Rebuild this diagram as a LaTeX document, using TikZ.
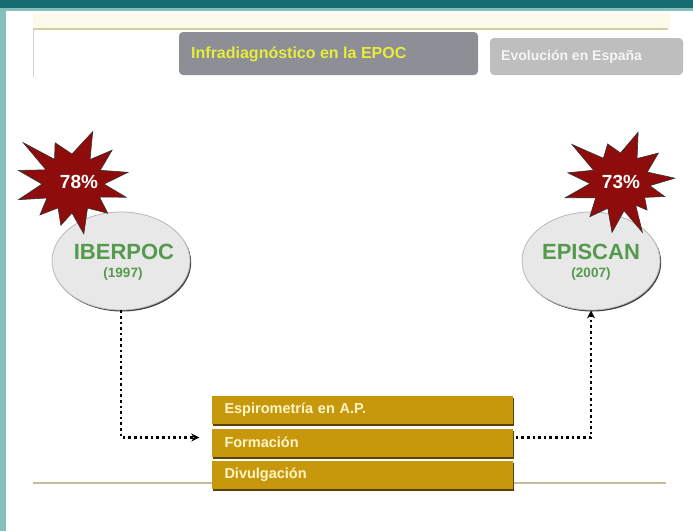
\documentclass[tikz,border=0pt]{standalone}
\usepackage{fontspec}
\setmainfont{Liberation Sans}
\usetikzlibrary{shapes.geometric,arrows.meta,shadows}
\definecolor{tealdark}{HTML}{156B6D}
\definecolor{teallight}{HTML}{84C0BB}
\definecolor{linekhaki}{HTML}{D3CE9E}
\definecolor{paleband}{HTML}{FBFBEC}
\definecolor{tabdark}{HTML}{8E8E96}
\definecolor{tablight}{HTML}{BEBEBE}
\definecolor{tabtext}{HTML}{E6EE3A}
\definecolor{burstred}{HTML}{8E0C0C}
\definecolor{ellfill}{HTML}{E8E8E8}
\definecolor{ellgreen}{HTML}{559A4C}
\definecolor{gold}{HTML}{C8980C}
\definecolor{golddark}{HTML}{5A4204}
\definecolor{goldtext}{HTML}{FFF6C6}
\begin{document}
\begin{tikzpicture}[x=1pt,y=-1pt,
  tab/.style={rounded corners=4pt, inner sep=0pt},
  burst/.style={fill=burstred, draw=black!80, line width=0.6pt, line join=miter},
  pct/.style={text=white, font=\bfseries\fontsize{19}{19}\selectfont},
  oval/.style={ellipse, fill=ellfill, draw=gray!55, line width=0.8pt,
    minimum width=138pt, minimum height=98pt, inner sep=0pt,
    drop shadow={shadow xshift=1.2pt, shadow yshift=-1.5pt, opacity=0.75, fill=black}},
  ovname/.style={text=ellgreen, font=\bfseries\fontsize{22}{22}\selectfont},
  ovyear/.style={text=ellgreen, font=\bfseries\fontsize{13.5}{13.5}\selectfont},
  bar/.style={fill=gold, minimum width=301pt, minimum height=28pt, inner xsep=13pt,
    text width=275pt, align=left, text=goldtext,
    font=\bfseries\fontsize{14.5}{14.5}\selectfont,
    drop shadow={shadow xshift=1pt, shadow yshift=-2pt, opacity=1, fill=golddark}},
  dots/.style={line width=2.6pt, dash pattern=on 2.6pt off 3pt, black,
    -{Stealth[length=8pt,width=8pt]}}
]
\useasboundingbox (0,0) rectangle (693,531);
\fill[white] (0,0) rectangle (693,531);
% frame
\fill[tealdark] (0,0) rectangle (693,8);
\fill[teallight] (0,8) rectangle (693,11);
\fill[teallight] (0,11) rectangle (6,531);
\fill[paleband] (33,13) rectangle (670,28);
\draw[linekhaki, line width=1.5pt] (33,29) -- (668,29);
\draw[gray!35, line width=1pt] (33,29) -- (33,77);
\draw[linekhaki!80!gray, line width=1.5pt] (33,483) -- (666,483);
% tabs
\node[tab, fill=tabdark, minimum width=299pt, minimum height=43pt] (tab1) at (328.5,53.5) {};
\node[anchor=west, inner sep=0pt, text=tabtext, font=\bfseries\fontsize{16}{16}\selectfont] (tab1t) at (191,54) {Infradiagnóstico en la EPOC};
\node[tab, fill=tablight, minimum width=193pt, minimum height=37pt] (tab2) at (586.5,56.5) {};
\node[anchor=west, inner sep=0pt, text=white!92!gray, font=\bfseries\fontsize{14}{14}\selectfont] (tab2t) at (501,57) {Evolución en España};
% ovals
\node[oval] (ib) at (121,261) {};
\node[ovname] (ibt) at (124,252) {IBERPOC};
\node[ovyear] (iby) at (123,274) {(1997)};
\node[oval] (ep) at (591,261) {};
\node[ovname] (ept) at (591,252) {EPISCAN};
\node[ovyear] (epy) at (591,274) {(2007)};
% bursts
\begin{scope}[shift={(73,183)}]
\draw[burst] (-69:55) -- (-54:29) -- (-40:51) -- (-25:30) -- (-11:56) -- (2:31) -- (15:55) -- (28:30)
  -- (41:46) -- (60:29) -- (78:52) -- (92:30) -- (106:44) -- (121:29) -- (136:46) -- (150:30)
  -- (163:57) -- (178:31) -- (193:56) -- (206:30) -- (219:64) -- (232:30) -- (246:44) -- (268:29) -- cycle;
\end{scope}
\node[pct] (p78) at (79,182) {78\%};
\begin{scope}[shift={(620,182)}]
\draw[burst] (218:61) -- (235:29) -- (252:40) -- (271:29) -- (290:53) -- (306:29) -- (323:48) -- (340:29)
  -- (356:55) -- (7:30) -- (18:47) -- (32:29) -- (46:39) -- (56:28) -- (66:55) -- (82:29)
  -- (99:51) -- (115:29) -- (131:46) -- (147:29) -- (164:57) -- (177:30) -- (190:53) -- (204:29) -- cycle;
\end{scope}
\node[pct] (p73) at (621,182) {73\%};
% bars
\node[bar] (b1) at (362,410) {Espirometría en A.P.};
\node[bar] (b2) at (362,442.5) {Formación};
\node[bar] (b3) at (362,475) {Divulgación};
% connectors
\draw[dots, shorten >=12pt] (ib.south) |- ([yshift=5pt]b2.west);
\draw[dots] ([yshift=5pt,xshift=3pt]b2.east) -| (ep.south);
\end{tikzpicture}
\end{document}
